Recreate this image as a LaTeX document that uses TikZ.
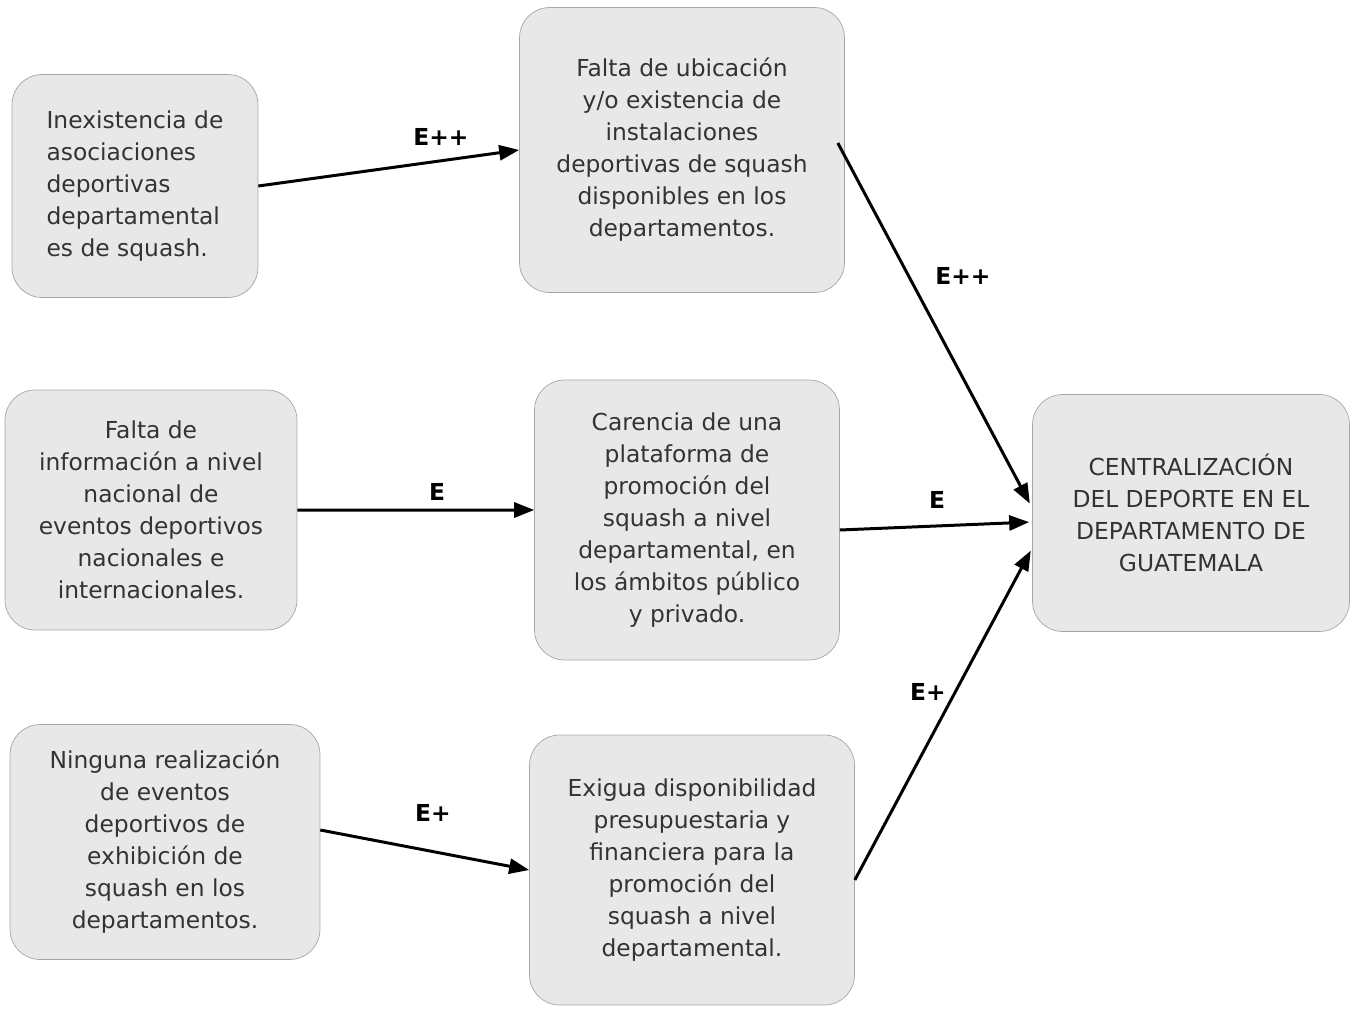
\documentclass[tikz,border=0pt]{standalone}
\usepackage{fontspec}
\setmainfont{DejaVu Sans}
\usetikzlibrary{arrows.meta}

\begin{document}
\begin{tikzpicture}[x=0.02cm, y=-0.02cm,
    box/.style = {draw=black!35, fill=black!9, rounded corners=0.6cm, align=center, inner sep=4pt, text=black!80, font=\fontsize{13.3}{18.2}\selectfont},
    lbl/.style = {font=\fontsize{13.3}{16}\selectfont\bfseries},
    arr/.style = {-{Triangle[length=0.4cm, width=0.3cm]}, line width=1.7pt}]
    \useasboundingbox (0,0) rectangle (1356,1011);
    % causas (izquierda)
    \node[box, align=left, minimum width=4.92cm, minimum height=4.46cm] (C1) at (135,186) {Inexistencia de\\asociaciones\\deportivas\\departamental\\es de squash.};
    \node[box, minimum width=5.84cm, minimum height=4.8cm] (C2) at (151,510) {Falta de\\información a nivel\\nacional de\\eventos deportivos\\nacionales e\\internacionales.};
    \node[box, minimum width=6.2cm, minimum height=4.7cm] (C3) at (165,842) {Ninguna realización\\de eventos\\deportivos de\\exhibición de\\squash en los\\departamentos.};
    % efectos (centro)
    \node[box, minimum width=6.5cm, minimum height=5.7cm] (M1) at (682,150) {Falta de ubicación\\y/o existencia de\\instalaciones\\deportivas de squash\\disponibles en los\\departamentos.};
    \node[box, minimum width=6.1cm, minimum height=5.6cm] (M2) at (687,520) {Carencia de una\\plataforma de\\promoción del\\squash a nivel\\departamental, en\\los ámbitos público\\y privado.};
    \node[box, minimum width=6.5cm, minimum height=5.4cm] (M3) at (692,870) {Exigua disponibilidad\\presupuestaria y\\financiera para la\\promoción del\\squash a nivel\\departamental.};
    % problema
    \node[box, minimum width=6.34cm, minimum height=4.74cm] (P) at (1191,513) {CENTRALIZACIÓN\\DEL DEPORTE EN EL\\DEPARTAMENTO DE\\GUATEMALA};
    % conexiones
    \draw[arr] (C1.east) -- (M1.west);
    \draw[arr] (C2.east) -- ([yshift=0.2cm]M2.west);
    \draw[arr] ([yshift=0.24cm]C3.east) -- (M3.west);
    \draw[arr, shorten >=0.1cm] ([xshift=-0.14cm,yshift=0.14cm]M1.east) -- ([yshift=0.1cm]P.west);
    \draw[arr, shorten >=0.06cm] ([yshift=-0.2cm]M2.east) -- ([yshift=-0.18cm]P.west);
    \draw[arr, shorten >=0.06cm] ([yshift=-0.2cm]M3.east) -- ([yshift=-0.7cm]P.west);
    % intensidades
    \node[lbl] (L1) at (441,137) {E++};
    \node[lbl] (L2) at (437,492) {E};
    \node[lbl] (L3) at (433,813) {E+};
    \node[lbl] (L4) at (963,276) {E++};
    \node[lbl] (L5) at (937,500) {E};
    \node[lbl] (L6) at (928,692) {E+};
\end{tikzpicture}
\end{document}
